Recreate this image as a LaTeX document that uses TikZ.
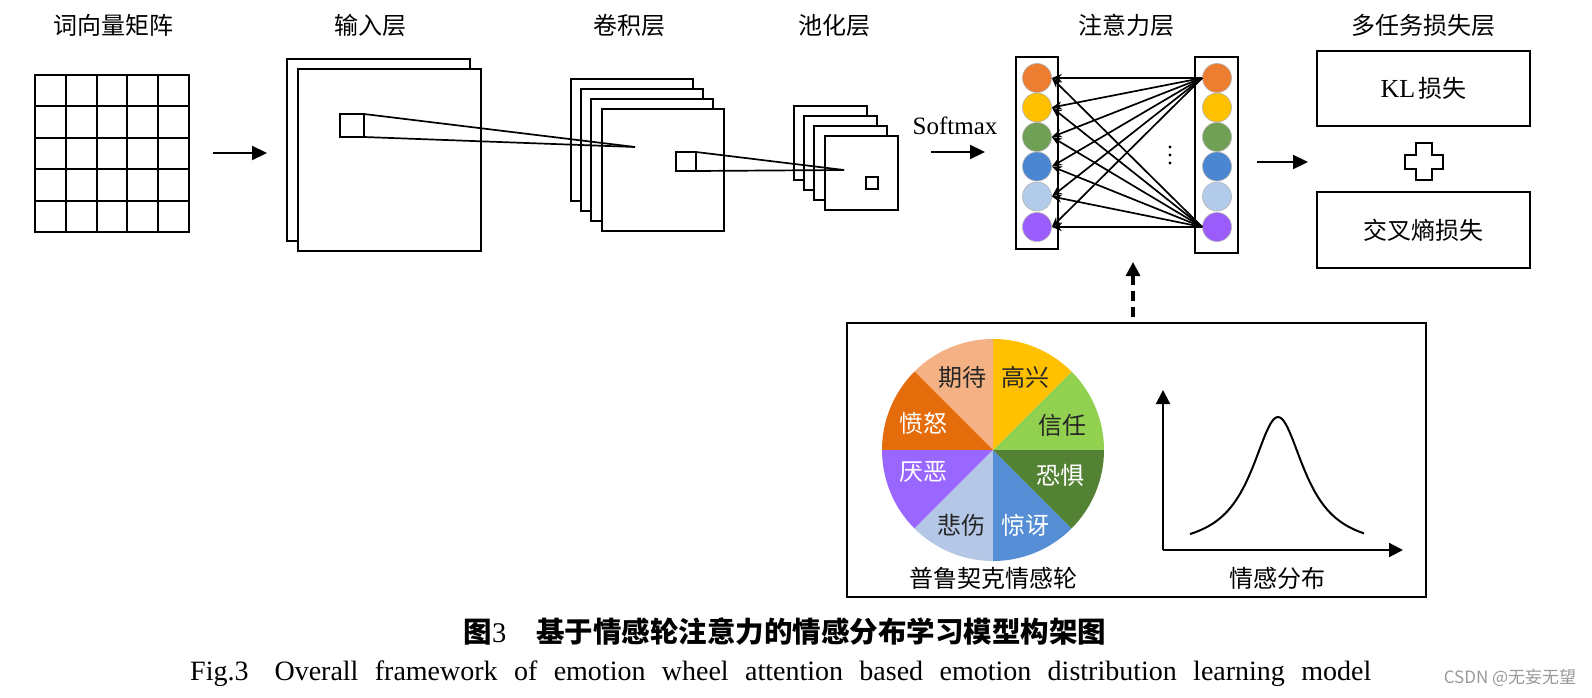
\documentclass[tikz,border=0pt]{standalone}
\usepackage{fontspec}
\setmainfont{Liberation Serif}
\newfontfamily\song{Noto Sans CJK SC}
\newfontfamily\cjksans{Noto Sans CJK SC}
\usetikzlibrary{arrows.meta,calc}
\newcommand\fsz[1]{\fontsize{#1}{#1}\selectfont}
\definecolor{cOrange}{HTML}{ED7D31}
\definecolor{cGold}{HTML}{FFC000}
\definecolor{cGreen}{HTML}{70A055}
\definecolor{cBlue}{HTML}{4A86D2}
\definecolor{cLBlue}{HTML}{B4CCEC}
\definecolor{cPurple}{HTML}{9A5CFA}
\definecolor{wPeach}{HTML}{F4B183}
\definecolor{wGold}{HTML}{FFC000}
\definecolor{wLGreen}{HTML}{92D050}
\definecolor{wDGreen}{HTML}{548235}
\definecolor{wBlue}{HTML}{558ED5}
\definecolor{wLBlue}{HTML}{B4C7E7}
\definecolor{wPurple}{HTML}{9966FF}
\definecolor{wOrange}{HTML}{E46C0A}
\definecolor{wmark}{HTML}{9A9A9A}
\tikzset{
  lay/.style={draw, line width=2.1pt, fill=white, inner sep=0pt, outer sep=0pt, anchor=north west},
  gl/.style={line width=2.1pt},
  ttl/.style={font=\song\fsz{24}},
  arr/.style={-{Triangle[length=15pt,width=14pt]}, line width=2.2pt},
  thinl/.style={line width=1.7pt},
  neur/.style={circle, minimum size=29pt, draw=gray!60, line width=0.6pt, inner sep=0pt},
  att/.style={-{Stealth[length=10pt,width=8pt]}, line width=1.7pt},
  lbl/.style={font=\song\fsz{24}},
  dasharr/.style={-{Triangle[length=14pt,width=14pt]}, line width=3.2pt, dash pattern=on 10pt off 6pt},
}
\begin{document}
\begin{tikzpicture}[x=1pt,y=-1pt]
\useasboundingbox[fill=white] (0,0) rectangle (1592,698);

% titles
\node[ttl] (t1) at (113,25) {词向量矩阵};
\node[ttl] (t2) at (370,25) {输入层};
\node[ttl] (t3) at (629,25) {卷积层};
\node[ttl] (t4) at (834,25) {池化层};
\node[ttl] (t5) at (1126,25) {注意力层};
\node[ttl] (t6) at (1423,25) {多任务损失层};

% word vector matrix
\node[lay, minimum width=154pt, minimum height=157pt] (grid) at (35,75) {};
\foreach \i in {1,2,3,4} {
  \draw[gl] (35+\i*30.8,75) -- (35+\i*30.8,232);
  \draw[gl] (35,75+\i*31.4) -- (189,75+\i*31.4);
}
\coordinate (a1s) at (213,153);
\coordinate (a1e) at (267,153);
\draw[arr] (a1s) -- (a1e);

% input layer
\node[lay, minimum width=183pt, minimum height=182pt] (in1) at (287,59) {};
\node[lay, minimum width=183pt, minimum height=182pt] (in2) at (298,69) {};
\node[lay, minimum width=24pt, minimum height=23pt] (ink) at (340,114) {};

% conv layer
\node[lay, minimum width=122pt, minimum height=122pt] (cv1) at (571,79) {};
\node[lay, minimum width=122pt, minimum height=122pt] (cv2) at (581,89) {};
\node[lay, minimum width=122pt, minimum height=122pt] (cv3) at (591,99) {};
\node[lay, minimum width=122pt, minimum height=122pt] (cv4) at (602,109) {};
\node[lay, minimum width=20pt, minimum height=19pt] (cvk) at (676,152) {};
\coordinate (cvf) at (635,147);

% pooling layer
\node[lay, minimum width=73pt, minimum height=74pt] (pl1) at (794,106) {};
\node[lay, minimum width=73pt, minimum height=74pt] (pl2) at (804,116) {};
\node[lay, minimum width=73pt, minimum height=74pt] (pl3) at (814,126) {};
\node[lay, minimum width=73pt, minimum height=74pt] (pl4) at (825,136) {};
\node[lay, minimum width=12pt, minimum height=12pt] (plk) at (866,177) {};
\coordinate (plf) at (844,170);

% receptive field lines
\draw[thinl] (ink.north east) -- (cvf);
\draw[thinl] (ink.south east) -- (cvf);
\draw[thinl] (cvk.north east) -- (plf);
\draw[thinl] (cvk.south east) -- (plf);

% softmax
\node[font=\fsz{25}] (sm) at (955,126) {Softmax};
\coordinate (a2s) at (931,152);
\coordinate (a2e) at (985,152);
\draw[arr] (a2s) -- (a2e);

% attention layer
\node[lay, minimum width=42pt, minimum height=192pt] (lb) at (1016,57) {};
\node[lay, minimum width=43pt, minimum height=196pt] (rb) at (1195,57) {};
\foreach \j/\yy/\c in {1/78/cOrange, 2/107.5/cGold, 3/137/cGreen, 4/166.5/cBlue, 5/196.5/cLBlue, 6/227/cPurple} {
  \node[neur, fill=\c] (l\j) at (1037,\yy) {};
  \node[neur, fill=\c] (r\j) at (1217,\yy) {};
}
\foreach \j in {1,...,6} {
  \draw[att] (r1.west) -- (l\j.east);
  \draw[att] (r6.west) -- (l\j.east);
}
\foreach \yy in {147,155,163} { \fill (1170,\yy) circle (1.7pt); }
\coordinate (a3s) at (1257,162);
\coordinate (a3e) at (1308,162);
\draw[arr] (a3s) -- (a3e);

% loss layer
\node[lay, minimum width=213pt, minimum height=75pt] (kl) at (1317,51) {};
\node[font=\fsz{26}] (klt) at (kl.center) {KL\kern3pt{\song\fsz{24}损失}};
\node[lay, minimum width=213pt, minimum height=76pt] (ce) at (1317,192) {};
\node[lbl] (cet) at (ce.center) {交叉熵损失};
\coordinate (pc) at (1424,161.5);
\draw[line width=2pt] (pc) +(-8,-18.5) -- +(8,-18.5) -- +(8,-7) -- +(19,-7) -- +(19,7) -- +(8,7)
  -- +(8,18.5) -- +(-8,18.5) -- +(-8,7) -- +(-19,7) -- +(-19,-7) -- +(-8,-7) -- cycle;

% bottom panel
\node[lay, minimum width=579pt, minimum height=274pt] (pb) at (847,323) {};
\coordinate (das) at (1133,317);
\coordinate (dae) at (1133,262);
\draw[dasharr] (das) -- (dae);

% emotion wheel
\coordinate (wc) at (993,450);
\foreach \a/\c in {0/wLGreen, 45/wGold, 90/wPeach, 135/wOrange, 180/wPurple, 225/wLBlue, 270/wBlue, 315/wDGreen} {
  \fill[\c] (wc) -- ++(\a:111pt) arc[start angle=\a, end angle=\a+45, radius=111pt] -- cycle;
}
\node[lbl, text=black!85] (e1) at (962,377) {期待};
\node[lbl, text=black!85] (e2) at (1025,377) {高兴};
\node[lbl, text=white] (e3) at (923,423) {愤怒};
\node[lbl, text=black!85] (e4) at (1062,425) {信任};
\node[lbl, text=white] (e5) at (923,472) {厌恶};
\node[lbl, text=white] (e6) at (1060,475) {恐惧};
\node[lbl, text=black!85] (e7) at (961,525) {悲伤};
\node[lbl, text=white] (e8) at (1025,525) {惊讶};
\node[lbl] (wl) at (993,578) {普鲁契克情感轮};

% distribution
\coordinate (ax0) at (1163,550);
\coordinate (axy) at (1163,390);
\coordinate (axx) at (1403,550);
\draw[-{Triangle[length=14pt,width=14pt]}, line width=2.1pt] (ax0) -- (axy);
\draw[-{Triangle[length=14pt,width=14pt]}, line width=2.1pt] (ax0) -- (axx);
\draw[line width=2pt, domain=-88:86, samples=90, smooth] plot ({1278+\x}, {550-133/(1+(\x/32.5)*(\x/32.5))});
\node[lbl] (dl) at (1277,578) {情感分布};

% captions
\node[anchor=west, font=\song\bfseries\fsz{28.5}] (cap1) at (460,632) {图{\rmfamily\mdseries 3}\hspace{30pt}基于情感轮注意力的情感分布学习模型构架图};
\node[anchor=west, font=\fsz{28}, inner sep=0pt] (cap2) at (190,674) {\makebox[1181pt][s]{Fig.3\hspace{26pt}Overall framework of emotion wheel attention based emotion distribution learning model}};
\node[font=\cjksans\fsz{17}, text=wmark] (wm) at (1510,678) {CSDN @无妄无望};
\end{tikzpicture}
\end{document}
